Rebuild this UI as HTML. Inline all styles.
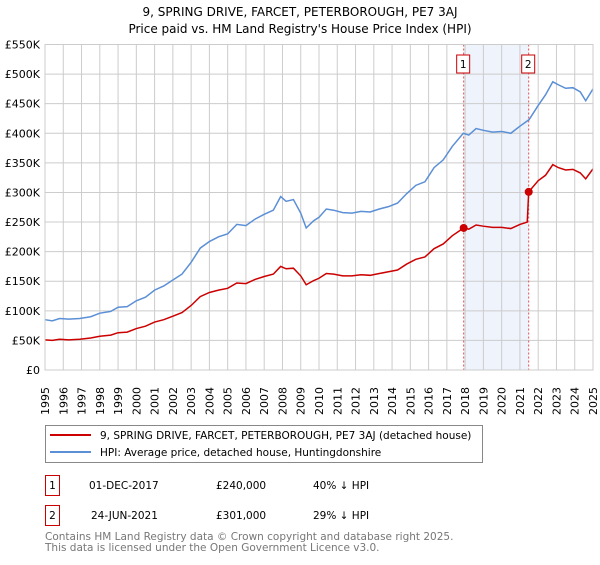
<!DOCTYPE html>
<html><head><meta charset="utf-8"><style>
body{margin:0;background:#fff;font-family:"Liberation Sans","DejaVu Sans",sans-serif;}
svg text{font-family:"DejaVu Sans","Liberation Sans",sans-serif;}
</style></head><body>
<svg id="c" width="600" height="560" xmlns="http://www.w3.org/2000/svg">
<text x="300" y="16" text-anchor="middle" font-size="12">9, SPRING DRIVE, FARCET, PETERBOROUGH, PE7 3AJ</text>
<text x="300" y="33" text-anchor="middle" font-size="12">Price paid vs. HM Land Registry's House Price Index (HPI)</text>
<g id="plot"></g>
<g>
<rect x="45.5" y="425.5" width="437" height="37" fill="#fff" stroke="#888"/>
<line x1="50" y1="435" x2="91" y2="435" stroke="#cc0000" stroke-width="2"/>
<text x="100" y="439" font-size="10.5">9, SPRING DRIVE, FARCET, PETERBOROUGH, PE7 3AJ (detached house)</text>
<line x1="50" y1="452" x2="91" y2="452" stroke="#5b8fd6" stroke-width="2"/>
<text x="100" y="456" font-size="10.5">HPI: Average price, detached house, Huntingdonshire</text>
</g>
<g font-size="10.5">
<rect x="45.5" y="475.5" width="14" height="20" fill="none" stroke="#cc0000"/>
<text x="52.5" y="489" text-anchor="middle">1</text>
<text x="89" y="489">01-DEC-2017</text><text x="216" y="489">£240,000</text><text x="313" y="489">40% ↓ HPI</text>
<rect x="45.5" y="505.5" width="14" height="20" fill="none" stroke="#cc0000"/>
<text x="52.5" y="519" text-anchor="middle">2</text>
<text x="91" y="519">24-JUN-2021</text><text x="216" y="519">£301,000</text><text x="313" y="519">29% ↓ HPI</text>
</g>
<text x="45" y="540" font-size="10.5" fill="#777">Contains HM Land Registry data © Crown copyright and database right 2025.</text>
<text x="45" y="551" font-size="10.5" fill="#777">This data is licensed under the Open Government Licence v3.0.</text>
</svg>
<script>
const hpiDates=[1995,1995.4,1995.8,1996.3,1996.9,1997.5,1998,1998.6,1999,1999.5,2000,2000.5,2001,2001.5,2002,2002.5,2003,2003.5,2004,2004.5,2005,2005.5,2006,2006.5,2007,2007.5,2007.9,2008.2,2008.6,2009,2009.3,2009.7,2010,2010.4,2010.8,2011.3,2011.8,2012.3,2012.8,2013.3,2013.8,2014.3,2014.8,2015.3,2015.8,2016.3,2016.8,2017.3,2017.9,2018.2,2018.6,2019,2019.5,2020,2020.5,2021,2021.5,2022,2022.4,2022.8,2023.1,2023.5,2023.9,2024.3,2024.6,2025];
const hpiValues=[85,83,87,86,87,90,96,99,106,107,117,123,135,142,152,162,182,206,217,225,230,246,244,255,263,270,293,285,288,265,240,252,258,272,270,266,265,268,267,272,276,282,298,312,318,342,355,378,400,397,408,405,402,403,400,412,423,447,465,487,482,476,477,470,455,475];
const propDates=[1995,1995.4,1995.8,1996.3,1996.9,1997.5,1998,1998.6,1999,1999.5,2000,2000.5,2001,2001.5,2002,2002.5,2003,2003.5,2004,2004.5,2005,2005.5,2006,2006.5,2007,2007.5,2007.9,2008.2,2008.6,2009,2009.3,2009.7,2010,2010.4,2010.8,2011.3,2011.8,2012.3,2012.8,2013.3,2013.8,2014.3,2014.8,2015.3,2015.8,2016.3,2016.8,2017.3,2017.92,2018.2,2018.6,2019,2019.5,2020,2020.5,2021,2021.4,2021.48,2022,2022.4,2022.8,2023.1,2023.5,2023.9,2024.3,2024.6,2025];
const propValues=[51,50,52,51,52,54,57,59,63,64,70,74,81,85,91,97,109,124,131,135,138,147,146,153,158,162,175,171,172,159,144,151,155,163,162,159,159,161,160,163,166,169,179,187,191,205,213,227,240,238,245,243,241,241,239,246,250,301,320,329,347,342,338,339,333,323,340];
const sales=[{d:2017.92,v:240,n:"1"},{d:2021.48,v:301,n:"2"}];
const yTicks=[0,50,100,150,200,250,300,350,400,450,500,550];
const yLabels=["£0","£50K","£100K","£150K","£200K","£250K","£300K","£350K","£400K","£450K","£500K","£550K"];
const years=[];for(let y=1995;y<=2025;y++)years.push(y);
const X0=45,X1=593,Y0=370,Y1=44.5;
const xs=d=>X0+(d-1995)/30*(X1-X0);
const ys=v=>Y0-v/550*(Y0-Y1);
const NS="http://www.w3.org/2000/svg";
const g=document.getElementById('plot');
function mk(t,a,p){const e=document.createElementNS(NS,t);for(const k in a)e.setAttribute(k,a[k]);(p||g).appendChild(e);return e;}
const band=mk('rect',{x:xs(sales[0].d),y:Y1,width:xs(sales[1].d)-xs(sales[0].d),height:Y0-Y1,fill:'#eef3fc'});


years.forEach(y=>{const l=mk('line',{x1:xs(y),x2:xs(y),y1:Y1,y2:Y0,stroke:'#ccc'});


const t=mk('text',{x:0,y:0,'font-size':'11',transform:`translate(${xs(y)+4},${Y0+45}) rotate(-90)`});t.textContent=y;

});
yTicks.forEach((v,i)=>{const l=mk('line',{x1:X0,x2:X1,y1:ys(v),y2:ys(v),stroke:'#ccc'});


const t=mk('text',{x:X0-5,y:ys(v)+4,'font-size':'11','text-anchor':'end'});t.textContent=yLabels[i];

});
sales.forEach(s=>{const l=mk('line',{x1:xs(s.d),x2:xs(s.d),y1:Y1,y2:Y0,stroke:'#e05050','stroke-dasharray':'2,2'});


const r=mk('rect',{x:xs(s.d)-7,y:55,width:13,height:18,fill:'#fff',stroke:'#cc0000'});


const t=mk('text',{x:xs(s.d)-0.5,y:68,'font-size':'10.5','text-anchor':'middle'});t.textContent=s.n;

});
const hp=mk('polyline',{points:hpiDates.map((d,i)=>xs(d)+','+ys(hpiValues[i])).join(' '),fill:'none',stroke:'#5b8fd6','stroke-width':1.5});


const pp=mk('polyline',{points:propDates.map((d,i)=>xs(d)+','+ys(propValues[i])).join(' '),fill:'none',stroke:'#cc0000','stroke-width':1.5});


sales.forEach(s=>{const c=mk('circle',{cx:xs(s.d),cy:ys(s.v),r:4,fill:'#cc0000'});

});
const ax=mk('rect',{x:X0,y:Y1,width:X1-X0,height:Y0-Y1,fill:'none',stroke:'#ccc'});


</script>
</body></html>
